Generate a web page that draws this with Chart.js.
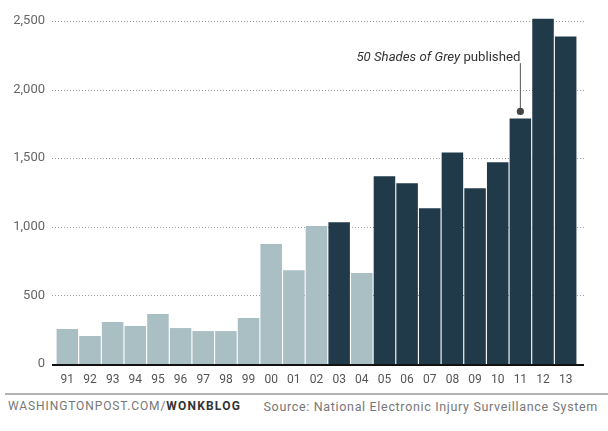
<!DOCTYPE html>
<html>
<head>
<meta charset="utf-8">
<script src="https://cdn.jsdelivr.net/npm/chart.js@4"></script>
<style>
  body { margin: 0; background: #fff; }
  #wrap { position: relative; width: 608px; height: 431px; }
  #chart-canvas { position: absolute; left: 0; top: 0; }
  .rule { position: absolute; left: 5px; top: 393px; width: 603px; height: 2px; background: #b3b3b3; }
  .credit { position: absolute; left: 8px; top: 399px; font: 12px Roboto, sans-serif; letter-spacing: 0.9px; color: #777; }
  .credit b { color: #333; letter-spacing: 1.2px; }
  .source { position: absolute; right: 10px; top: 399px; font: 12.5px Roboto, sans-serif; letter-spacing: 0.67px; color: #777; }
</style>
</head>
<body>
<div id="wrap">
  <canvas id="chart-canvas" width="608" height="390"></canvas>
  <div class="rule"></div>
  <div class="credit">WASHINGTONPOST.COM/<b>WONKBLOG</b></div>
  <div class="source">Source: National Electronic Injury Surveillance System</div>
</div>
<script>
const years = ['91', '92', '93', '94', '95', '96', '97', '98', '99', '00', '01', '02',
  '03', '04', '05', '06', '07', '08', '09', '10', '11', '12', '13'];
const injuries = [255, 204, 306, 277, 364, 262, 240, 240, 335, 874, 684, 1005,
  1034, 663, 1368, 1317, 1135, 1542, 1280, 1470, 1790, 2517, 2386];
// dark bars mark the highlighted years
const highlighted = ['03', '05', '06', '07', '08', '09', '10', '11', '12', '13'];
const yTicks = [0, 500, 1000, 1500, 2000, 2500];
const noteYear = '11';
const noteValue = 2207;

const lightBlue = '#a9bfc4';
const darkBlue = '#213a49';

const chartLines = {
  id: 'chartLines',
  beforeDatasetsDraw(chart) {
    const { ctx, scales: { y } } = chart;
    ctx.save();
    ctx.strokeStyle = '#9a9a9a';
    ctx.lineWidth = 1;
    ctx.setLineDash([1, 2]);
    yTicks.forEach((t) => {
      if (t === 0) return;
      const py = Math.round(y.getPixelForValue(t)) + 0.5;
      ctx.beginPath();
      ctx.moveTo(52, py);
      ctx.lineTo(584, py);
      ctx.stroke();
    });
    ctx.restore();
  },
  afterDatasetsDraw(chart) {
    const { ctx, scales: { x, y } } = chart;
    ctx.save();
    // baseline
    const py0 = y.getPixelForValue(0);
    ctx.strokeStyle = '#111';
    ctx.lineWidth = 2;
    ctx.beginPath();
    ctx.moveTo(52, py0 + 1);
    ctx.lineTo(584, py0 + 1);
    ctx.stroke();

    // annotation
    const i = years.indexOf(noteYear);
    const nx = x.getPixelForValue(i);
    const barTop = y.getPixelForValue(injuries[i]);
    const dotY = barTop - 7;
    const textY = y.getPixelForValue(noteValue);
    ctx.strokeStyle = '#555';
    ctx.lineWidth = 1;
    ctx.beginPath();
    ctx.moveTo(nx, textY + 2);
    ctx.lineTo(nx, dotY);
    ctx.stroke();
    ctx.fillStyle = '#444';
    ctx.beginPath();
    ctx.arc(nx, dotY, 3.6, 0, Math.PI * 2);
    ctx.fill();

    ctx.fillStyle = '#333';
    ctx.textBaseline = 'alphabetic';
    ctx.textAlign = 'left';
    ctx.font = '13.2px Roboto, sans-serif';
    const tail = ' published';
    const tailW = ctx.measureText(tail).width;
    ctx.font = 'italic 13.2px Roboto, sans-serif';
    const head = '50 Shades of Grey';
    const headW = ctx.measureText(head).width;
    const startX = nx - tailW - headW;
    ctx.fillText(head, startX, textY);
    ctx.font = '13.2px Roboto, sans-serif';
    ctx.fillText(tail, startX + headW, textY);
    ctx.restore();
  }
};

new Chart('chart-canvas', {
  type: 'bar',
  data: {
    labels: years,
    datasets: [{
      label: 'Injuries',
      data: injuries,
      backgroundColor: years.map((yr) => highlighted.includes(yr) ? darkBlue : lightBlue),
      borderWidth: 0,
      categoryPercentage: 1,
      barPercentage: 0.95,
    }],
  },
  options: {
    responsive: false,
    animation: false,
    layout: {
      padding: { top: 10, right: 31, left: 0, bottom: 0 },
    },
    scales: {
      x: {
        grid: { display: false, drawTicks: false },
        border: { display: false },
        ticks: {
          color: '#555',
          font: { family: 'Roboto', size: 12 },
          padding: 9,
          maxRotation: 0,
          autoSkip: false,
        },
        afterFit(scale) {
          scale.height = 26;
          scale.paddingLeft = 0;
          scale.paddingRight = 0;
        },
      },
      y: {
        min: 0,
        max: 2580,
        afterBuildTicks(scale) { scale.ticks = yTicks.map((v) => ({ value: v })); },
        grid: { display: false, drawTicks: false },
        border: { display: false },
        ticks: {
          color: '#666',
          font: { family: 'Roboto', size: 13 },
          padding: 11,
          callback: (v) => v.toLocaleString('en-US'),
        },
        afterFit(scale) {
          scale.width = 56;
          scale.paddingTop = 0;
          scale.paddingBottom = 0;
        },
      },
    },
    plugins: {
      legend: { display: false },
      tooltip: { enabled: false },
    },
  },
  plugins: [chartLines],
});
</script>
</body>
</html>
